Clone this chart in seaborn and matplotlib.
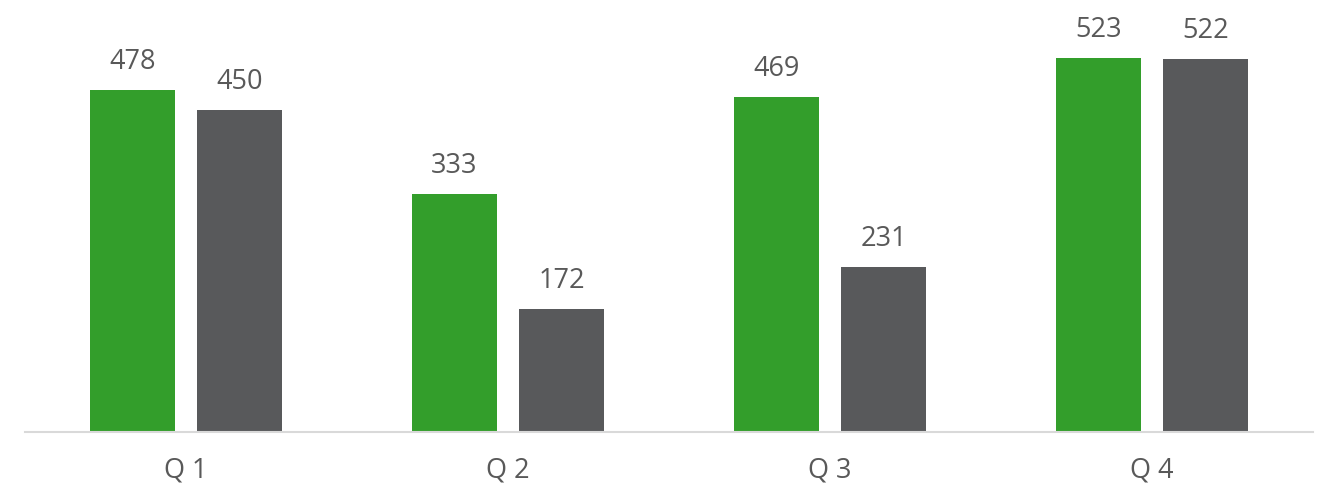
import matplotlib
matplotlib.use("Agg")
import matplotlib.pyplot as plt
import pandas as pd
import seaborn as sns

quarters = ["Q 1", "Q 2", "Q 3", "Q 4"]
series_a = [478, 333, 469, 523]
series_b = [450, 172, 231, 522]

df = pd.DataFrame({
    "quarter": quarters * 2,
    "value": series_a + series_b,
    "series": ["A"] * 4 + ["B"] * 4,
})

colors = ["#339e2b", "#58595b"]
text_color = "#595959"

sns.set_style("white")
plt.rcParams["font.family"] = ["Open Sans", "DejaVu Sans"]

fig = plt.figure(figsize=(13.29, 4.93), dpi=100)
ax = fig.add_axes([25 / 1329, 61 / 493, 1288 / 1329, 432 / 493])

sns.barplot(df, x="quarter", y="value", hue="series", palette=colors,
            width=0.664, gap=0.205, errorbar=None, legend=False, ax=ax,
            saturation=1, linewidth=0)

for c in ax.containers:
    ax.bar_label(c, fontsize=19.5, color=text_color, padding=10)

ax.set_xlim(-0.5, 3.5)
ax.set_ylim(0, 604)
ax.set_xlabel("")
ax.set_ylabel("")
ax.set_yticks([])
ax.tick_params(axis="x", length=0, pad=18, labelsize=19.5, labelcolor=text_color)
for s in ["top", "right", "left"]:
    ax.spines[s].set_visible(False)
ax.spines["bottom"].set_color("#d9d9d9")
ax.spines["bottom"].set_linewidth(1.5)

fig.savefig("out.png", dpi=100)
plt.close()
